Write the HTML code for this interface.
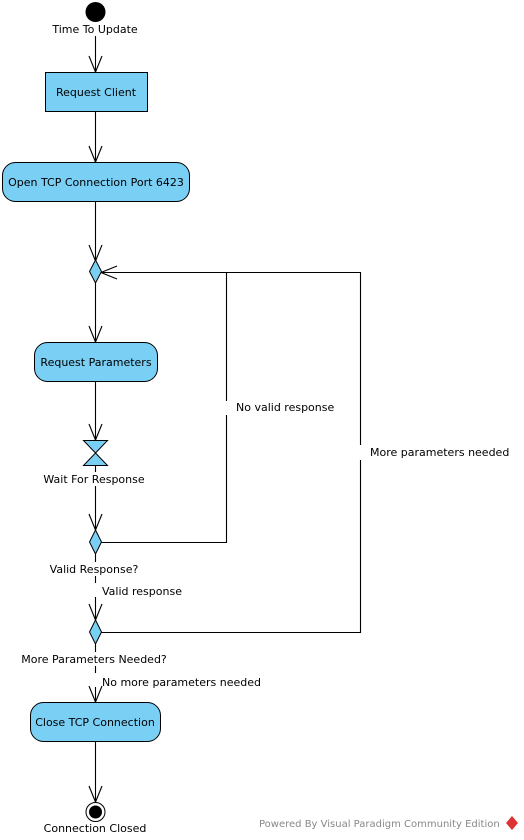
<!DOCTYPE html>
<html><head><meta charset="utf-8"><style>
html,body{margin:0;padding:0;background:#fff;}
svg{display:block;}
text{font-family:"DejaVu Sans","Liberation Sans",sans-serif;font-size:11px;fill:#000;}
</style></head><body>
<svg width="524" height="840" viewBox="0 0 524 840" xmlns="http://www.w3.org/2000/svg">
<g stroke="#000" stroke-width="1.1" fill="none">
<line x1="95.5" y1="36" x2="95.5" y2="72"/>
<line x1="95.5" y1="112" x2="95.5" y2="162"/>
<line x1="95.5" y1="202" x2="95.5" y2="260"/>
<line x1="95.5" y1="283" x2="95.5" y2="342"/>
<line x1="95.5" y1="382" x2="95.5" y2="440"/>
<line x1="95.5" y1="466" x2="95.5" y2="472"/>
<line x1="95.5" y1="486" x2="95.5" y2="530"/>
<line x1="95.5" y1="554" x2="95.5" y2="562"/>
<line x1="95.5" y1="576" x2="95.5" y2="583"/>
<line x1="95.5" y1="597" x2="95.5" y2="620"/>
<line x1="95.5" y1="644" x2="95.5" y2="652"/>
<line x1="95.5" y1="666" x2="95.5" y2="673"/>
<line x1="95.5" y1="687" x2="95.5" y2="702"/>
<line x1="95.5" y1="742" x2="95.5" y2="802"/>
<polyline points="101,542.5 226.5,542.5 226.5,415"/>
<polyline points="226.5,401 226.5,272.5"/>
<polyline points="101,632.5 360.5,632.5 360.5,460"/>
<polyline points="360.5,445 360.5,272.5 101,272.5"/>
<polyline points="89,56 95.5,72 102,56"/>
<polyline points="89,146 95.5,162 102,146"/>
<polyline points="89,245 95.5,261 102,245"/>
<polyline points="89,326 95.5,342 102,326"/>
<polyline points="89,424 95.5,440 102,424"/>
<polyline points="89,514 95.5,530 102,514"/>
<polyline points="89,604 95.5,620 102,604"/>
<polyline points="89,686 95.5,702 102,686"/>
<polyline points="89,786 95.5,802 102,786"/>
<polyline points="117,266 101,272.5 117,279"/>
</g>
<circle cx="95.5" cy="12" r="10" fill="#000"/>
<rect x="45.5" y="72.5" width="102" height="39" fill="#7acff5" stroke="#000"/>
<rect x="2.5" y="162.5" width="187" height="39" rx="13" fill="#7acff5" stroke="#000"/>
<polygon points="95.5,260 101.5,271.5 95.5,283 89.5,271.5" fill="#7acff5" stroke="#000"/>
<rect x="34.5" y="342.5" width="123" height="39" rx="13" fill="#7acff5" stroke="#000"/>
<polygon points="83.5,440.5 107.5,440.5 83.5,465.5 107.5,465.5" fill="#7acff5" stroke="#000"/>
<polygon points="95.5,530 101.5,542 95.5,554 89.5,542" fill="#7acff5" stroke="#000"/>
<polygon points="95.5,620 101.5,632 95.5,644 89.5,632" fill="#7acff5" stroke="#000"/>
<rect x="30.5" y="702.5" width="130" height="39" rx="13" fill="#7acff5" stroke="#000"/>
<circle cx="95.5" cy="812" r="9.5" fill="#fff" stroke="#000"/>
<circle cx="95.5" cy="812" r="6.5" fill="#000"/>
<text x="95" y="33" text-anchor="middle">Time To Update</text>
<text x="96" y="96" text-anchor="middle">Request Client</text>
<text x="96" y="186" text-anchor="middle">Open TCP Connection Port 6423</text>
<text x="96" y="366" text-anchor="middle">Request Parameters</text>
<text x="94" y="483" text-anchor="middle">Wait For Response</text>
<text x="94" y="573" text-anchor="middle">Valid Response?</text>
<text x="102" y="595">Valid response</text>
<text x="94" y="663" text-anchor="middle">More Parameters Needed?</text>
<text x="102" y="686">No more parameters needed</text>
<text x="95" y="726" text-anchor="middle">Close TCP Connection</text>
<text x="95" y="832" text-anchor="middle">Connection Closed</text>
<text x="236" y="411">No valid response</text>
<text x="370" y="456">More parameters needed</text>
<text x="259" y="827" style="font-size:10px;fill:#888">Powered By Visual Paradigm Community Edition</text>
<polygon points="512,816 518,823 512,830 506,823" fill="#d33"/>
</svg>
</body></html>
